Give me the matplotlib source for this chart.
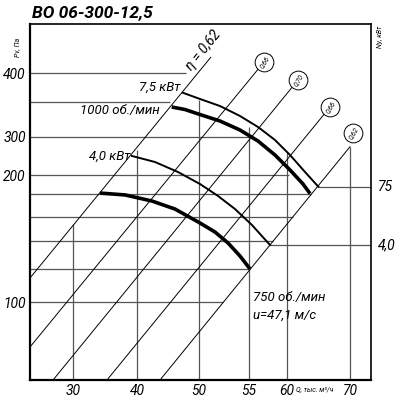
import numpy as np
import matplotlib.pyplot as plt
from matplotlib import transforms

plt.rcParams['font.family'] = ['Roboto', 'DejaVu Sans']

# шкалы графика неравномерные: опорные значения и их положение (px)
q_knots = [20, 30, 40, 50, 55, 60, 70, 80]
q_pos = [9, 73, 137, 199, 249, 287, 350, 413]
p_knots = [0, 100, 200, 300, 400, 500]
p_pos = [-29, 98, 225, 263.5, 327, 390.5]

q_ticks = [30, 40, 50, 55, 60, 70]
p_ticks = [100, 200, 300, 400]

# напорные кривые
q_1000 = [45.6, 47.74, 50.1, 52.1, 54.1, 56.18, 58.42, 60.48, 62.54, 63.65]
p_1000 = [346.5, 342.5, 334.6, 324.4, 310.2, 288.3, 251.9, 213.0, 192.9, 185.4]
q_750 = [34.22, 38.13, 42.42, 46.13, 50.1, 51.6, 52.9, 54.1, 55.13]
p_750 = [185.8, 184.3, 179.5, 173.2, 162.2, 155.1, 146.5, 136.2, 126.0]

# кривые мощности
q_n75 = [47.37, 50.1, 52.1, 54.1, 56.18, 58.42, 60.48, 62.86, 64.97]
p_n75 = [369.0, 359.1, 348.0, 332.3, 315.0, 290.9, 251.9, 207.8, 190.8]
q_n40 = [39.22, 42.9, 46.61, 50.1, 51.9, 53.6, 55.39, 57.76]
p_n40 = [249.4, 233.8, 207.8, 192.9, 183.5, 173.2, 160.6, 144.9]

# лучи КПД
ray_q = [(23.28, 51.17), (23.28, 56.97), (26.88, 61.75), (35.31, 66.83), (43.71, 70.0)]
ray_p = [(118.9, 424.7), (64.57, 417.3), (38.58, 389.0), (38.58, 346.5), (38.58, 273.5)]
eta_q = [56.97, 61.75, 66.83, 70.48]
eta_p = [417.3, 389.0, 346.5, 305.5]
eta_labels = ['0,66', '0,70', '0,66', '0,62']

# сетка
hgrid_p = [400, 354.3, 300, 200, 185.4, 167.2, 148.0, 126.0, 100]
hgrid_qmax = [47.9, 45.32, 55.13, 60.32, 63.81, 60.95, 58.16, 55.13, 52.4]
vgrid_q = [30, 40, 50, 55, 60, 70]
vgrid_ptop = [161.4, 264.9, 357.5, 315.0, 259.7, 273.5]

# уровни мощности справа
n_p = [190.8, 144.5]
n_q = [64.97, 57.76]
n_labels = ['75', '4,0']

q_lim = (23.28, 73.33)
p_lim = (38.58, 477.2)


def piecewise(knots, pos):
    knots = np.asarray(knots, float)
    pos = np.asarray(pos, float)
    return (lambda v: np.interp(v, knots, pos),
            lambda u: np.interp(u, pos, knots))


fig = plt.figure(figsize=(4, 4), dpi=100)
ax = fig.add_axes([30 / 400, 20 / 400, 341 / 400, 356 / 400])
ax.set_xscale('function', functions=piecewise(q_knots, q_pos))
ax.set_yscale('function', functions=piecewise(p_knots, p_pos))
ax.set_xlim(*q_lim)
ax.set_ylim(*p_lim)

grid_c = '#555555'
for p, qm in zip(hgrid_p, hgrid_qmax):
    ax.hlines(p, q_lim[0], qm, color=grid_c, lw=0.9, zorder=1)
for q, pt in zip(vgrid_q, vgrid_ptop):
    ax.vlines(q, p_lim[0], pt, color=grid_c, lw=0.9, zorder=1)
for p, q in zip(n_p, n_q):
    ax.hlines(p, q, q_lim[1], color=grid_c, lw=0.9, zorder=1)

for rq, rp in zip(ray_q, ray_p):
    ax.plot(rq, rp, color='black', lw=0.7, zorder=2)

ax.plot(q_1000, p_1000, color='black', lw=2.6, solid_capstyle='butt', zorder=3)
ax.plot(q_750, p_750, color='black', lw=2.6, solid_capstyle='butt', zorder=3)
ax.plot(q_n75, p_n75, color='black', lw=1.4, zorder=3)
ax.plot(q_n40, p_n40, color='black', lw=1.4, zorder=3)

ax.plot(eta_q, eta_p, 'o', ms=13.5, mfc='white', mec='black', mew=0.7, zorder=4)
for q, p, s in zip(eta_q, eta_p, eta_labels):
    ax.text(q, p, s, fontsize=5, style='italic', rotation=60,
            ha='center', va='center', zorder=5)

# подписи
it = dict(style='italic', fontsize=9.5)
ax.text(46.94, 378, '7,5 кВт', ha='right', va='center', **it)
ax.text(43.71, 340.2, '1000 об./мин', ha='right', va='center', **it)
ax.text(38.9, 249.4, '4,0 кВт', ha='right', va='center', **it)
ax.text(55.53, 103.9, '750 об./мин', ha='left', va='center', **it)
ax.text(55.53, 89.8, 'u=47,1 м/с', ha='left', va='center', **it)
ax.text(50.45, 436.2, 'η = 0,62', rotation=51, ha='center', va='center',
        rotation_mode='anchor', style='italic', fontsize=10)

tr = transforms.blended_transform_factory(ax.transAxes, ax.transData)
for p, s in zip(n_p, n_labels):
    ax.text(1.02, p, s, transform=tr, ha='left', va='center',
            style='italic', fontsize=10)

ax.set_xticks(q_ticks)
ax.set_xticklabels([str(v) for v in q_ticks])
ax.set_yticks(p_ticks)
ax.set_yticklabels([str(v) for v in p_ticks])
ax.minorticks_off()
ax.tick_params(length=0, labelsize=10, pad=3)
for lab in ax.get_xticklabels() + ax.get_yticklabels():
    lab.set_style('italic')

for side in ['top', 'right']:
    ax.spines[side].set_linewidth(1.2)
for side in ['left', 'bottom']:
    ax.spines[side].set_linewidth(1.6)

fig.text(32 / 400, 1 - 13 / 400, 'ВО 06-300-12,5', fontsize=12.5,
         fontweight='bold', style='italic', va='center', ha='left')
fig.text(17 / 400, 1 - 47 / 400, 'Pv, Па', fontsize=5, style='italic',
         rotation=90, ha='center', va='center')
fig.text(380 / 400, 1 - 37 / 400, 'Ny, кВт', fontsize=5, style='italic',
         rotation=90, ha='center', va='center')
fig.text(315 / 400, 1 - 389 / 400, 'Q, тыс. м³/ч', fontsize=5, style='italic',
         ha='center', va='center')

fig.savefig('out.png', dpi=100)
